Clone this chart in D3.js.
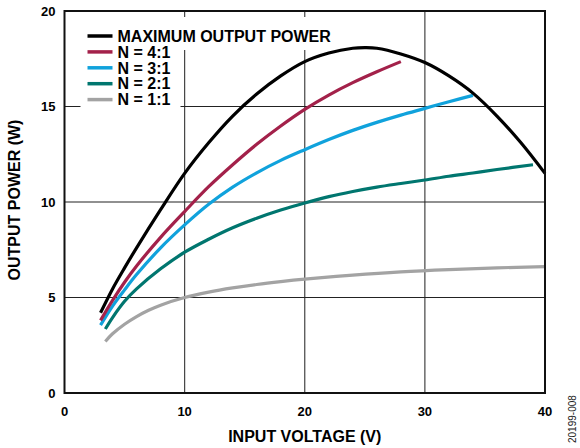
<!DOCTYPE html>
<html>
<head>
<meta charset="utf-8">
<script src="https://cdn.jsdelivr.net/npm/d3@7"></script>
<style>
  body { margin: 0; background: #fff; }
  text { font-family: "Liberation Sans", Arial, sans-serif; }
</style>
</head>
<body>
<div class="chart"></div>
<script>
// values
const xTicks = [0, 10, 20, 30, 40];
const yTicks = [0, 5, 10, 15, 20];

const maxPower = [[3, 4.2], [4, 5.45], [5, 6.55], [6, 7.6], [8, 9.6], [10, 11.5], [12, 13.1], [14, 14.5], [16, 15.65], [18, 16.6], [20, 17.35], [22, 17.8], [24, 18.05], [25, 18.08], [26, 18.05], [28, 17.75], [30, 17.3], [32, 16.6], [34, 15.7], [36, 14.5], [38, 13.1], [40, 11.5]];
const n41 = [[3, 3.8], [4, 4.85], [5, 5.8], [6, 6.65], [8, 8.15], [10, 9.5], [12, 10.8], [14, 11.95], [16, 13.02], [18, 13.98], [20, 14.85], [22, 15.6], [24, 16.25], [26, 16.82], [28, 17.35]];
const n31 = [[3, 3.55], [4, 4.55], [5, 5.4], [6, 6.2], [8, 7.6], [10, 8.8], [12, 9.88], [14, 10.78], [16, 11.53], [18, 12.18], [20, 12.74], [22, 13.27], [24, 13.75], [26, 14.17], [28, 14.55], [30, 14.9], [32, 15.25], [34, 15.58]];
const n21 = [[3.4, 3.35], [4, 3.95], [5, 4.8], [6, 5.45], [8, 6.5], [10, 7.37], [12, 8.05], [14, 8.65], [16, 9.15], [18, 9.58], [20, 9.95], [22, 10.28], [24, 10.55], [26, 10.78], [28, 10.97], [30, 11.15], [32, 11.35], [34, 11.52], [36, 11.7], [39, 11.95]];
const n11 = [[3.4, 2.7], [4, 3.1], [5, 3.6], [6, 4.0], [7, 4.33], [8, 4.6], [10, 5.0], [12, 5.28], [14, 5.5], [16, 5.68], [18, 5.83], [20, 5.96], [24, 6.17], [28, 6.34], [32, 6.46], [36, 6.55], [40, 6.62]];

const seriesNames = ["MAXIMUM OUTPUT POWER", "N = 4:1", "N = 3:1", "N = 2:1", "N = 1:1"];
const seriesData = [maxPower, n41, n31, n21, n11];
const seriesColors = ["#000000", "#a3214a", "#10a2dc", "#00766f", "#a3a3a3"];

const W = 580, H = 448;
const margin = { top: 11, right: 35, bottom: 55, left: 64.5 };
const width = 545 - margin.left, height = 393 - margin.top;

const svg = d3.select(".chart").append("svg")
    .attr("width", W).attr("height", H);

const g = svg.append("g")
    .attr("transform", `translate(${margin.left},${margin.top})`);

const x = d3.scaleLinear().domain([0, 40]).range([0, width]);
const y = d3.scaleLinear().domain([0, 20]).range([height, 0]);

// grid
g.append("g").selectAll("line").data(xTicks.slice(1, -1)).join("line")
    .attr("x1", d => x(d)).attr("x2", d => x(d))
    .attr("y1", 0).attr("y2", height)
    .attr("stroke", "#444").attr("stroke-width", 1.2);
g.append("g").selectAll("line").data(yTicks.slice(1, -1)).join("line")
    .attr("x1", 0).attr("x2", width)
    .attr("y1", d => y(d)).attr("y2", d => y(d))
    .attr("stroke", "#222").attr("stroke-width", 1.2);

// tick labels
g.append("g").selectAll("text").data(yTicks).join("text")
    .attr("x", -9).attr("y", d => y(d)).attr("dy", "0.36em")
    .attr("text-anchor", "end")
    .style("font-size", "13px").style("font-weight", "bold")
    .text(d => d);
g.append("g").selectAll("text").data(xTicks).join("text")
    .attr("x", d => x(d)).attr("y", height + 23)
    .attr("text-anchor", "middle")
    .style("font-size", "13px").style("font-weight", "bold")
    .text(d => d);

// legend background (hides grid behind it)
g.append("rect").attr("x", 16).attr("y", 6).attr("width", 256).attr("height", 33).attr("fill", "#fff");
g.append("rect").attr("x", 16).attr("y", 39).attr("width", 100).attr("height", 57).attr("fill", "#fff");

const legend = g.append("g").attr("transform", "translate(23,25)");
const rows = legend.selectAll("g").data(seriesNames).join("g")
    .attr("transform", (d, i) => `translate(0,${i * 15.9})`);
rows.append("line").attr("x1", 0).attr("x2", 25)
    .attr("stroke", (d, i) => seriesColors[i]).attr("stroke-width", 3.5);
rows.append("text").attr("x", 30).attr("dy", "0.36em")
    .style("font-size", "16px").style("font-weight", "bold")
    .text(d => d);

// curves
const line = d3.line()
    .x(d => x(d[0])).y(d => y(d[1]))
    .curve(d3.curveCatmullRom.alpha(0.5));

g.append("g").selectAll("path").data(seriesData.slice().reverse()).join("path")
    .attr("fill", "none")
    .attr("stroke", (d, i) => seriesColors[seriesColors.length - 1 - i])
    .attr("stroke-width", 3.2)
    .attr("stroke-linecap", "butt")
    .attr("d", line);

// frame
g.append("rect").attr("width", width).attr("height", height)
    .attr("fill", "none").attr("stroke", "#111").attr("stroke-width", 2);

// axis titles
svg.append("text")
    .attr("transform", `translate(20,${margin.top + height / 2 - 2}) rotate(-90)`)
    .attr("text-anchor", "middle")
    .style("font-size", "16px").style("font-weight", "bold")
    .text("OUTPUT POWER (W)");
svg.append("text")
    .attr("x", margin.left + width / 2).attr("y", 442)
    .attr("text-anchor", "middle")
    .style("font-size", "16px").style("font-weight", "bold")
    .text("INPUT VOLTAGE (V)");

svg.append("text")
    .attr("transform", "translate(576,443) rotate(-90)")
    .attr("text-anchor", "start")
    .style("font-size", "10px").style("fill", "#222")
    .text("20199-008");
</script>
</body>
</html>
